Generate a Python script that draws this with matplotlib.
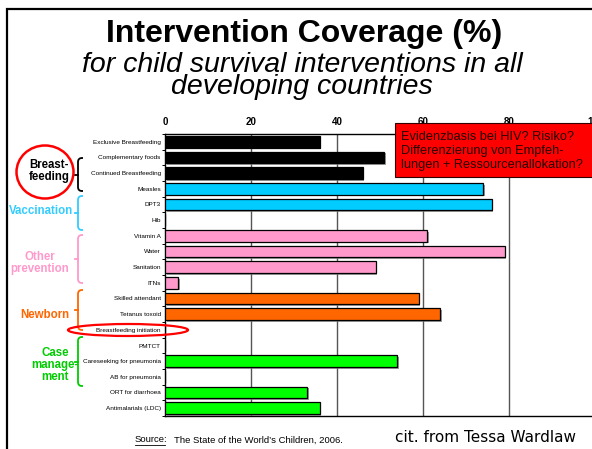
import matplotlib
matplotlib.use("Agg")
import matplotlib.pyplot as plt
from matplotlib.patches import Rectangle, Ellipse
from matplotlib.path import Path
from matplotlib.patches import PathPatch
import matplotlib.patheffects as pe

# ---------------- data ----------------
categories = ["Exclusive Breastfeeding", "Complementary foods", "Continued Breastfeeding",
              "Measles", "DPT3", "Hib",
              "Vitamin A", "Water", "Sanitation", "ITNs",
              "Skilled attendant", "Tetanus toxoid", "Breastfeeding initiation",
              "PMTCT", "Careseeking for pneumonia", "AB for pneumonia",
              "ORT for diarrhoea", "Antimalarials (LDC)"]
values = [36, 51, 46,
          74, 76, 0,
          61, 79, 49, 3,
          59, 64, 0,
          0, 54, 0,
          33, 36]
bar_colors = ["#000000"] * 3 + ["#00CCFF"] * 3 + ["#FF99CC"] * 4 + ["#FF6600"] * 3 + ["#00FF00"] * 5
x_ticks = [0, 20, 40, 60, 80, 100]

group_labels = ["Breast-\nfeeding", "Vaccination", "Other\nprevention", "Newborn", "Case\nmanage-\nment"]
group_colors = ["#000000", "#33CCFF", "#FF99CC", "#FF6600", "#00CC00"]

title = "Intervention Coverage (%)"
subtitle = "for child survival interventions in all\ndeveloping countries"
note = "Evidenzbasis bei HIV? Risiko?\nDifferenzierung von Empfeh-\nlungen + Ressourcenallokation?"

W, H = 592, 449
fig = plt.figure(figsize=(W / 100, H / 100), dpi=100)
plt.rcParams['font.family'] = ['Liberation Sans', 'DejaVu Sans']

def fx(x):
    return x / W

def fy(y):
    return 1 - y / H

# figure frame
fig.patches.append(Rectangle((fx(7), fy(460)), fx(600), fy(9) - fy(460), transform=fig.transFigure,
                             fill=False, edgecolor="black", linewidth=1.6))

# title
fig.text(fx(304), fy(34), title, ha="center", va="center", fontsize=23, fontweight="bold")
fig.text(fx(302), fy(76), subtitle, ha="center", va="center", fontsize=20.5, style="italic",
         linespacing=0.84)

# axes
ax_left, ax_right, ax_top, ax_bot = 165, 595, 134, 416
ax = fig.add_axes([fx(ax_left), fy(ax_bot), fx(ax_right - ax_left), fy(ax_top) - fy(ax_bot)])
n = len(categories)
ypos = list(range(n))
bars = ax.barh(ypos, values, height=0.76, color=bar_colors, edgecolor="black", linewidth=0.9, zorder=3)
for b in bars:
    b.set_path_effects([pe.SimplePatchShadow(offset=(1.2, -1.2), shadow_rgbFace="0.45", alpha=0.7),
                        pe.Normal()])
ax.set_ylim(n - 0.5, -0.5)
ax.set_xlim(0, 100)
ax.set_yticks(ypos)
ax.set_yticklabels(categories, fontsize=4.6)
ax.set_yticks([i - 0.5 for i in range(n + 1)], minor=True)
ax.tick_params(axis="y", which="major", length=0, pad=3)
ax.tick_params(axis="y", which="minor", length=2.5, width=0.7)
ax.xaxis.tick_top()
ax.set_xticks(x_ticks)
ax.set_xticklabels([str(t) for t in x_ticks], fontsize=7, fontweight="bold")
ax.tick_params(axis="x", length=0, pad=5)
for t in x_ticks[1:-1]:
    ax.axvline(t, color="#555555", linewidth=1.0, zorder=1)
for s in ["left", "bottom", "top"]:
    ax.spines[s].set_linewidth(1.0)
    ax.spines[s].set_color("black")
ax.spines["right"].set_visible(False)

# note box
fig.patches.append(Rectangle((fx(395), fy(177)), fx(600 - 395), fy(123) - fy(177), transform=fig.transFigure,
                             facecolor="#FF0000", edgecolor="#330000", linewidth=0.8, zorder=10))
fig.text(fx(401), fy(151), note, ha="left", va="center", fontsize=9.2, color="#220000",
         linespacing=1.2, zorder=11)

# group brackets
def bracket(y0, y1, color, x0=78, x1=83):
    r = 4
    ym = (y0 + y1) / 2
    verts = [(fx(x1), fy(y0)), (fx(x0 + r), fy(y0)), (fx(x0), fy(y0)), (fx(x0), fy(y0 + r)),
             (fx(x0), fy(y1 - r)), (fx(x0), fy(y1)), (fx(x0 + r), fy(y1)), (fx(x1), fy(y1))]
    codes = [Path.MOVETO, Path.LINETO, Path.CURVE3, Path.CURVE3,
             Path.LINETO, Path.CURVE3, Path.CURVE3, Path.LINETO]
    fig.patches.append(PathPatch(Path(verts, codes), transform=fig.transFigure, fill=False,
                                 edgecolor=color, linewidth=1.3))
    fig.lines.append(plt.Line2D([fx(x0 - 3), fx(x0)], [fy(ym), fy(ym)], transform=fig.transFigure,
                                color=color, linewidth=1.3))

bracket(158, 191, group_colors[0])
bracket(196, 230, group_colors[1])
bracket(235, 283, group_colors[2])
bracket(290, 330, group_colors[3])
bracket(337, 386, group_colors[4])

fig.text(fx(49), fy(171), group_labels[0], ha="center", va="center", fontsize=8.3, fontweight="bold",
         color=group_colors[0], linespacing=1.0)
fig.text(fx(41), fy(211), group_labels[1], ha="center", va="center", fontsize=8.3, fontweight="bold",
         color=group_colors[1])
fig.text(fx(40), fy(263), group_labels[2], ha="center", va="center", fontsize=8.3, fontweight="bold",
         color=group_colors[2], linespacing=1.0)
fig.text(fx(45), fy(315), group_labels[3], ha="center", va="center", fontsize=8.3, fontweight="bold",
         color=group_colors[3])
fig.text(fx(55), fy(365), group_labels[4], ha="center", va="center", fontsize=8.3, fontweight="bold",
         color=group_colors[4], linespacing=1.0)

# red circles
fig.patches.append(Ellipse((fx(45), fy(172)), fx(57), fy(0) - fy(53), transform=fig.transFigure,
                           fill=False, edgecolor="#FF0000", linewidth=1.8, zorder=12))
fig.patches.append(Ellipse((fx(128), fy(330)), fx(120), fy(0) - fy(12), transform=fig.transFigure,
                           fill=False, edgecolor="#FF0000", linewidth=1.6, zorder=12))

# source
fig.text(fx(135), fy(440), "Source:", ha="left", va="center", fontsize=6.8)
fig.text(fx(174), fy(440), "The State of the World\u2019s Children, 2006.", ha="left", va="center", fontsize=6.8)
fig.lines.append(plt.Line2D([fx(135), fx(165)], [fy(445), fy(445)], transform=fig.transFigure,
                            color="black", linewidth=0.6))
fig.text(fx(395), fy(438), "cit. from Tessa Wardlaw", ha="left", va="center", fontsize=11,
         family="DejaVu Sans")

fig.savefig("out.png", dpi=100)
